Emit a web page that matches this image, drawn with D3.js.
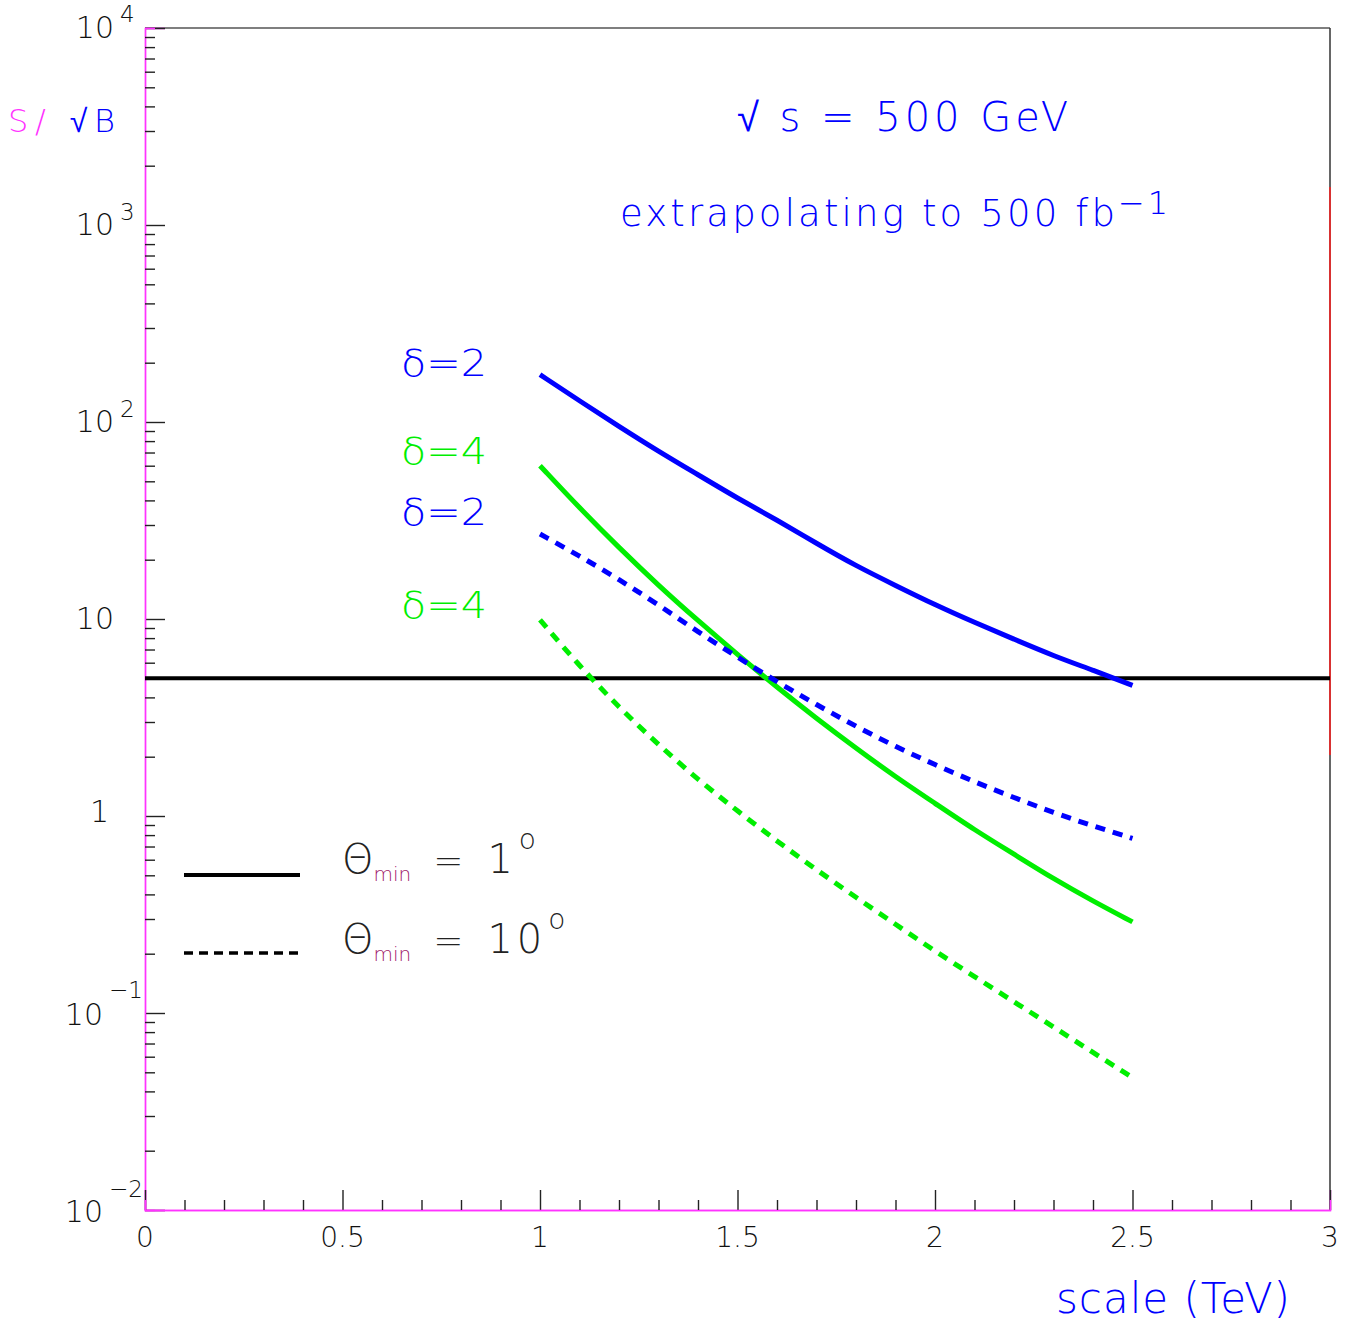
<!DOCTYPE html>
<html>
<head>
<meta charset="utf-8">
<script src="https://cdn.jsdelivr.net/npm/d3@7"></script>
<style>
  body { margin: 0; background: #fff; }
  svg text { font-family: "DejaVu Sans", "Liberation Sans", sans-serif; font-weight: 200; }
</style>
</head>
<body>
<svg width="1349" height="1325"></svg>
<script>
// scale i TeV
const scaleX = [1.0, 1.1, 1.2, 1.3, 1.4, 1.5, 1.6, 1.7, 1.8, 1.9, 2.0, 2.1, 2.2, 2.3, 2.4, 2.5];

// S/sqrt(B), delta = 2 og 4, theta_min = 1 grad (fuld linje) og 10 grader (stiplet)
const d2theta1  = [174, 128, 95, 71, 54, 41, 31.8, 24.2, 18.6, 14.8, 11.8, 9.6, 7.9, 6.5, 5.5, 4.6];
const d4theta1  = [60, 36.6, 23, 14.8, 9.8, 6.6, 4.5, 3.13, 2.21, 1.58, 1.16, 0.85, 0.64, 0.48, 0.37, 0.29];
const d2theta10 = [27, 20.9, 15.9, 11.8, 8.6, 6.4, 4.8, 3.67, 2.85, 2.25, 1.82, 1.49, 1.24, 1.04, 0.89, 0.77];
const d4theta10 = [9.9, 5.77, 3.56, 2.30, 1.53, 1.06, 0.745, 0.533, 0.386, 0.282, 0.206, 0.153, 0.114, 0.085, 0.063, 0.047];

// vandret grænse ved S/sqrt(B) = 5
const limitLevel = 5;

// akse-inddeling
const xMajorTicks = [0, 0.5, 1, 1.5, 2, 2.5, 3];
const xTickLabels = ["0", "0.5", "1", "1.5", "2", "2.5", "3"];
const yDecades = [1e-2, 1e-1, 1, 10, 1e2, 1e3, 1e4];

const svg = d3.select("svg");

const x = d3.scaleLinear().domain([0, 3]).range([145, 1330]);
const y = d3.scaleLog().domain([1e-2, 1e4]).range([1210, 28]);

// minor ticks på x: hver 0.1
const xMinor = d3.range(0, 31).map(i => i / 10).filter(v => !xMajorTicks.some(m => Math.abs(m - v) < 1e-9));
// minor ticks på y: 2..9 i hver dekade
const yMinor = [];
yDecades.slice(0, -1).forEach(d => { for (let k = 2; k <= 9; k++) yMinor.push(d * k); });

// ramme
svg.append("line").attr("x1", 145).attr("x2", 1330).attr("y1", 28).attr("y2", 28)
  .attr("stroke", "#555").attr("stroke-width", 1.5);
svg.append("line").attr("x1", 1330).attr("x2", 1330).attr("y1", 28).attr("y2", 1210)
  .attr("stroke", "#333").attr("stroke-width", 1.5);
svg.append("line").attr("x1", 1330).attr("x2", 1330).attr("y1", 187).attr("y2", 755)
  .attr("stroke", "#ff2020").attr("stroke-width", 1.5);

// y-akse ticks (peger ind i plottet)
const yAxisMajor = svg.append("g").attr("transform", "translate(145,0)")
  .call(d3.axisRight(y).tickValues(yDecades).tickSize(20).tickFormat(""));
const yAxisMinor = svg.append("g").attr("transform", "translate(145,0)")
  .call(d3.axisRight(y).tickValues(yMinor).tickSize(10).tickFormat(""));

// x-akse ticks (peger op)
const xAxisMajor = svg.append("g").attr("transform", "translate(0,1210)")
  .call(d3.axisTop(x).tickValues(xMajorTicks).tickSize(20).tickFormat(""));
const xAxisMinor = svg.append("g").attr("transform", "translate(0,1210)")
  .call(d3.axisTop(x).tickValues(xMinor).tickSize(10).tickFormat(""));

[yAxisMajor, yAxisMinor, xAxisMajor, xAxisMinor].forEach(g => {
  g.selectAll(".tick line").attr("stroke", "#222").attr("stroke-width", 1.4);
  g.select(".domain").attr("stroke", "#ff33ff").attr("stroke-width", 1.4);
});

// x tick labels
svg.append("g").selectAll("text")
  .data(xMajorTicks)
  .join("text")
  .attr("x", d => x(d))
  .attr("y", 1247)
  .attr("text-anchor", "middle")
  .attr("font-size", 28)
  .attr("fill", "#111")
  .text((d, i) => xTickLabels[i]);

// y tick labels: 10 med eksponent
const yLabels = [
  { v: 1e4, base: "10", exp: "4", bx: 114, dy: 10, ey: -6 },
  { v: 1e3, base: "10", exp: "3", bx: 114, dy: 10, ey: -5 },
  { v: 1e2, base: "10", exp: "2", bx: 114, dy: 10, ey: -5 },
  { v: 10, base: "10", exp: "", bx: 114, dy: 10, ey: 0 },
  { v: 1, base: "1", exp: "", bx: 109, dy: 6, ey: 0 },
  { v: 1e-1, base: "10", exp: "\u22121", bx: 103, dy: 12, ey: -15 },
  { v: 1e-2, base: "10", exp: "\u22122", bx: 103, dy: 12, ey: -13 }
];
yLabels.forEach(l => {
  svg.append("text")
    .attr("x", l.bx).attr("y", y(l.v) + l.dy)
    .attr("text-anchor", "end")
    .attr("font-size", 30)
    .attr("fill", "#111")
    .text(l.base);
  if (l.exp) {
    svg.append("text")
      .attr("x", l.bx + 6).attr("y", y(l.v) + l.ey)
      .attr("font-size", 23)
      .attr("fill", "#111")
      .text(l.exp);
  }
});

// vandret linje ved 5
svg.append("line")
  .attr("x1", x(0)).attr("x2", x(3))
  .attr("y1", y(limitLevel)).attr("y2", y(limitLevel))
  .attr("stroke", "#000").attr("stroke-width", 4);

// kurver
const line = d3.line()
  .x(d => x(d[0]))
  .y(d => y(d[1]))
  .curve(d3.curveBasis);

const series = [
  { values: d2theta1, color: "#0000ff", dash: null },
  { values: d4theta1, color: "#00ee00", dash: null },
  { values: d2theta10, color: "#0000ff", dash: "10,8" },
  { values: d4theta10, color: "#00ee00", dash: "10,8" }
];

series.forEach(s => {
  svg.append("path")
    .datum(scaleX.map((v, i) => [v, s.values[i]]))
    .attr("d", line)
    .attr("fill", "none")
    .attr("stroke", s.color)
    .attr("stroke-width", 5)
    .attr("stroke-dasharray", s.dash);
});

// kurve-etiketter
const curveLabels = [
  { text: "\u03b4=2", color: "#0000ff", yy: 376 },
  { text: "\u03b4=4", color: "#00ee00", yy: 464 },
  { text: "\u03b4=2", color: "#0000ff", yy: 525 },
  { text: "\u03b4=4", color: "#00ee00", yy: 618 }
];
curveLabels.forEach(l => {
  svg.append("text")
    .attr("x", 401).attr("y", l.yy)
    .attr("font-size", 38)
    .attr("textLength", 86)
    .attr("lengthAdjust", "spacingAndGlyphs")
    .attr("fill", l.color)
    .text(l.text);
});

// y-akse titel
const yTitle = svg.append("text").attr("x", 8).attr("y", 132).attr("font-size", 32)
  .attr("textLength", 107).attr("lengthAdjust", "spacing");
yTitle.append("tspan").attr("fill", "#ff33ff").text("S/ ");
yTitle.append("tspan").attr("fill", "#0000ff").text("\u221aB");

// x-akse titel
svg.append("text")
  .attr("x", 1056).attr("y", 1313)
  .attr("font-size", 42)
  .attr("textLength", 234)
  .attr("lengthAdjust", "spacing")
  .attr("fill", "#0000ff")
  .text("scale (TeV)");

// tekst øverst
svg.append("text")
  .attr("x", 737).attr("y", 131)
  .attr("font-size", 40)
  .attr("textLength", 331)
  .attr("lengthAdjust", "spacing")
  .attr("fill", "#0000ff")
  .text("\u221a  s = 500 GeV");

svg.append("text").attr("x", 620).attr("y", 226).attr("font-size", 37).attr("fill", "#0000ff")
  .attr("textLength", 495).attr("lengthAdjust", "spacing")
  .text("extrapolating to 500 fb");
svg.append("text").attr("x", 1118).attr("y", 214).attr("font-size", 32).attr("fill", "#0000ff")
  .attr("textLength", 50).attr("lengthAdjust", "spacing")
  .text("\u2212 1");

// legende
svg.append("line").attr("x1", 184).attr("x2", 300).attr("y1", 875).attr("y2", 875)
  .attr("stroke", "#000").attr("stroke-width", 4);
svg.append("line").attr("x1", 184).attr("x2", 302).attr("y1", 953).attr("y2", 953)
  .attr("stroke", "#000").attr("stroke-width", 3.5).attr("stroke-dasharray", "9,6");

const legendItems = [
  { yy: 873, deg: "1", eqDx: 22, degDx: 24 },
  { yy: 953, deg: "10", eqDx: 22, degDx: 24 }
];
legendItems.forEach(l => {
  const t = svg.append("text").attr("x", 342).attr("y", l.yy).attr("fill", "#222");
  t.append("tspan").attr("font-size", 40).text("\u0398");
  t.append("tspan").attr("font-size", 20).attr("dy", 8).attr("fill", "#a0206a").text("min");
  t.append("tspan").attr("font-size", 36).attr("dy", -8).attr("dx", l.eqDx).text("=");
  t.append("tspan").attr("font-size", 40).attr("dx", l.degDx).attr("letter-spacing", 4).text(l.deg);
  t.append("tspan").attr("font-size", 28).attr("dy", -24).attr("dx", 2).text("o");
});
</script>
</body>
</html>
